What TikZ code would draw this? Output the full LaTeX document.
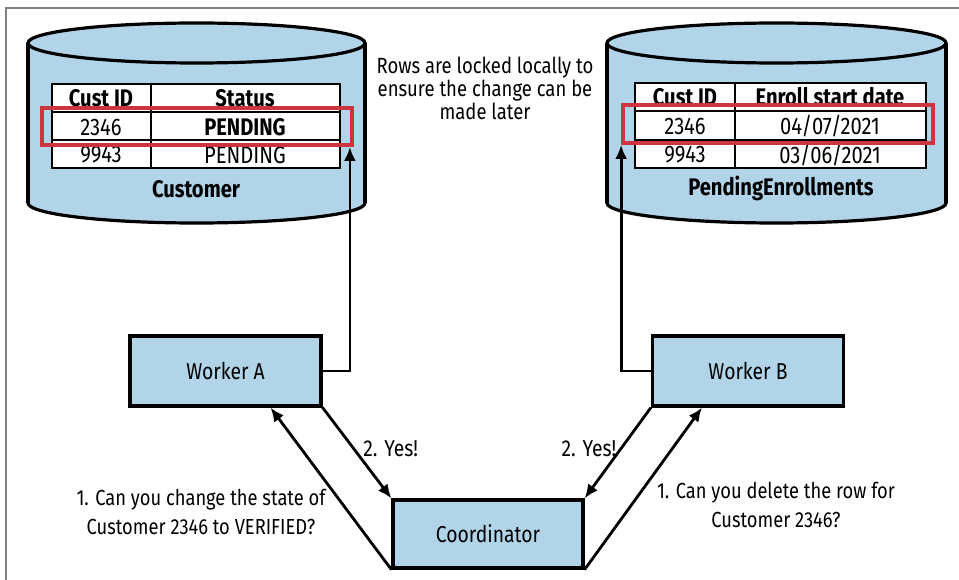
\documentclass[tikz,border=0pt]{standalone}
\usepackage{fontspec}
\usetikzlibrary{arrows.meta}
\setmainfont{Fira Sans}[FakeStretch=0.84]
\definecolor{dbblue}{RGB}{178,212,233}
\definecolor{lockred}{RGB}{206,52,62}
\tikzset{
  box/.style={draw,line width=3.2pt,fill=dbblue,minimum width=191,minimum height=70,font=\fontsize{23}{28}\selectfont},
  lock/.style={draw=lockred,line width=3.8pt},
  cell/.style={font=\fontsize{24}{26}\selectfont},
  msg/.style={font=\fontsize{23}{29}\selectfont,align=center},
  arr/.style={line width=2.8pt,-{Latex[length=14pt,width=12pt]}}
}
\begin{document}
\begin{tikzpicture}[x=1pt,y=-1pt]
\useasboundingbox (0,0) rectangle (959,580);
\draw[gray,line width=2pt] (6,580)--(6,8)--(959,8);
\foreach \cx/\r in {196.5/168.5,776.5/169.5} {
  \draw[fill=dbblue,draw=black,line width=3.2pt] (\cx,203) ellipse ({\r} and 20);
  \fill[dbblue] (\cx-\r,43) rectangle (\cx+\r,203);
  \draw[line width=3.2pt] (\cx-\r,43)--(\cx-\r,203) (\cx+\r,43)--(\cx+\r,203);
  \draw[fill=dbblue,line width=3.2pt] (\cx,43) ellipse ({\r} and 20);
}
\draw[fill=white,line width=2.8pt] (52,84) rectangle (340,168);
\draw[line width=2.8pt] (52,112)--(340,112) (52,140)--(340,140) (151,84)--(151,168);
\node[cell] at (101,98) {\bfseries Cust ID};
\node[cell] at (245,98) {\bfseries Status};
\node[cell] at (101,127) {2346};
\node[cell] at (245,127) {\bfseries PENDING};
\node[cell] at (101,155) {9943};
\node[cell] at (245,155) {PENDING};
\node[cell] (custdb) at (196,189) {\bfseries Customer};
\draw[fill=white,line width=2.8pt] (635,83) rectangle (926,168);
\draw[line width=2.8pt] (635,111)--(926,111) (635,140)--(926,140) (735,83)--(735,168);
\node[cell] at (685,97) {\bfseries Cust ID};
\node[cell] at (830,97) {\bfseries Enroll start date};
\node[cell] at (685,126) {2346};
\node[cell] at (830,126) {04/07/2021};
\node[cell] at (685,155) {9943};
\node[cell] at (830,155) {03/06/2021};
\node[cell] (enrolldb) at (781,188) {\bfseries PendingEnrollments};
\node[lock,minimum width=310,minimum height=37] (lockA) at (197,126.5) {};
\node[lock,minimum width=310,minimum height=38] (lockB) at (778,124) {};
\node[msg,font=\fontsize{22}{23}\selectfont] (note) at (485,88) {Rows are locked locally to\\ensure the change can be\\made later};
\node[box] (wa) at (225.5,371) {Worker A};
\node[box] (wb) at (748,371) {Worker B};
\node[box,minimum width=190,minimum height=68] (coord) at (488,534) {Coordinator};
\draw[arr] (wa.east) -| ([xshift=-4]lockA.south east);
\draw[arr] (wb.west) -| ([xshift=0]lockB.south west);
\draw[arr] (wa.south east) -- node[msg,right=5pt,pos=.45] {2. Yes!} (coord.north west);
\draw[arr] (coord.south west) -- ([xshift=45]wa.south);
\draw[arr] (wb.south west) -- node[msg,left=0pt,pos=.45] {2. Yes!} (coord.north east);
\draw[arr] (coord.south east) -- ([xshift=-46]wb.south);
\node[msg,font=\fontsize{21.8}{29}\selectfont] (askA) at (201,512) {1. Can you change the state of\\Customer 2346 to VERIFIED?};
\node[msg,font=\fontsize{21.8}{29}\selectfont] (askB) at (776,505) {1. Can you delete the row for\\Customer 2346?};
\end{tikzpicture}
\end{document}
